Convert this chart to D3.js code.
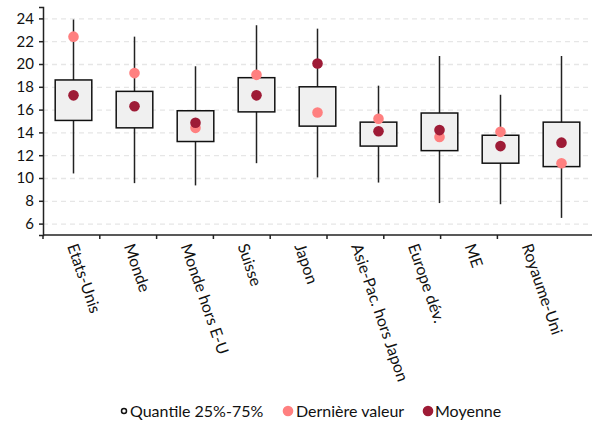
<!DOCTYPE html>
<html>
<head>
<meta charset="utf-8">
<script src="https://cdn.jsdelivr.net/npm/d3@7"></script>
<style>
  body { margin: 0; background: #fff; }
  svg text { font-family: Lato, "Open Sans", sans-serif; fill: #111; }
  .grid line { stroke: #e6e6e6; stroke-dasharray: 5,4; stroke-width: 1.3; }
  .grid .domain { display: none; }
  .axis path, .axis line { stroke: #222; stroke-width: 1.5; }
</style>
</head>
<body>
<div id="chart"><svg width="604" height="421"></svg></div>
<script>
const categories = ['Etats-Unis', 'Monde', 'Monde hors E-U', 'Suisse', 'Japon', 'Asie-Pac. hors Japon', 'Europe dév.', 'ME', 'Royaume-Uni']
const whiskerHigh = [23.9, 22.4, 19.8, 23.4, 23.1, 18.1, 20.7, 17.3, 20.7]
const q75 = [18.6, 17.6, 15.9, 18.8, 18.0, 14.9, 15.7, 13.75, 14.9]
const q25 = [15.05, 14.4, 13.2, 15.8, 14.55, 12.8, 12.4, 11.3, 11.0]
const whiskerLow = [10.4, 9.55, 9.35, 11.3, 10.05, 9.6, 7.8, 7.7, 6.5]
const moyenne = [17.25, 16.3, 14.85, 17.25, 20.05, 14.1, 14.2, 12.8, 13.1]
const derniere = [22.4, 19.2, 14.4, 19.05, 15.75, 15.2, 13.6, 14.05, 11.3]
const yTicks = [6, 8, 10, 12, 14, 16, 18, 20, 22, 24]

const colDerniere = '#ff8080'
const colMoyenne = '#9e1b36'

const dados = categories.map((c, i) => ({
  name: c, hi: whiskerHigh[i], q3: q75[i], q1: q25[i], lo: whiskerLow[i],
  moy: moyenne[i], der: derniere[i]
}))

const svg = d3.select('#chart svg')
const margin = { left: 43, right: 592, top: 7, bottom: 235 }

const xScale = d3.scaleBand()
  .range([margin.left, margin.right])
  .domain(categories)
  .paddingInner(0.4)
  .paddingOuter(0.2)

// les graduations de l'axe x ne tombent pas sur les boites dans l'original
const xTicks = d3.scalePoint()
  .range([margin.left, margin.left + 8 * 56.8])
  .domain(categories)

const yScale = d3.scaleLinear()
  .range([margin.bottom, margin.top])
  .domain([5, 25])

/*grille*/
svg.append('g')
  .attr('class', 'grid')
  .attr('transform', `translate(${margin.left}, 0)`)
  .call(d3.axisLeft(yScale)
    .tickValues(yTicks)
    .tickSize(-(margin.right - margin.left))
    .tickFormat('')
  )

/*axe y*/
svg.append('g')
  .attr('class', 'axis')
  .attr('transform', `translate(${margin.left}, 0)`)
  .call(d3.axisLeft(yScale).tickValues(yTicks).tickSizeOuter(0).tickSize(4).tickPadding(5))
  .selectAll('text')
  .style('font-size', '15px')

/*axe x*/
const xAxis = svg.append('g')
  .attr('class', 'axis')
  .attr('transform', `translate(0, ${margin.bottom})`)

xAxis.append('path')
  .attr('class', 'domain')
  .attr('d', `M${margin.left},0H${margin.right}`)

const xt = xAxis.selectAll('.tick')
  .data(categories)
  .enter()
  .append('g')
  .attr('class', 'tick')
  .attr('transform', (d) => `translate(${xTicks(d)}, 0)`)

xt.append('line').attr('y2', 4)

xt.append('text')
  .attr('transform', 'translate(24, 11) rotate(71)')
  .attr('text-anchor', 'start')
  .style('font-size', '16px')
  .text((d) => d)

/*boites*/
const g = svg.selectAll('.boite')
  .data(dados)
  .enter()
  .append('g')
  .attr('class', 'boite')

const cx = (d) => xScale(d.name) + xScale.bandwidth() / 2

g.append('line')
  .attr('x1', cx).attr('x2', cx)
  .attr('y1', (d) => yScale(d.hi))
  .attr('y2', (d) => yScale(d.lo))
  .attr('stroke', '#222')
  .attr('stroke-width', 1.5)

g.append('rect')
  .attr('x', (d) => xScale(d.name))
  .attr('width', xScale.bandwidth())
  .attr('y', (d) => yScale(d.q3))
  .attr('height', (d) => yScale(d.q1) - yScale(d.q3))
  .attr('fill', '#f0f0f0')
  .attr('stroke', '#111')
  .attr('stroke-width', 1.5)

g.append('circle')
  .attr('cx', cx)
  .attr('cy', (d) => yScale(d.der))
  .attr('r', 5.3)
  .attr('fill', colDerniere)

g.append('circle')
  .attr('cx', cx)
  .attr('cy', (d) => yScale(d.moy))
  .attr('r', 5.3)
  .attr('fill', colMoyenne)

/*legende*/
const legende = svg.append('g').attr('transform', 'translate(0, 411)')

legende.append('circle')
  .attr('cx', 124).attr('cy', 0).attr('r', 2.5)
  .attr('fill', '#fff').attr('stroke', '#111').attr('stroke-width', 1.5)
legende.append('text').attr('x', 130).attr('y', 5.5).style('font-size', '16px').text('Quantile 25%-75%')

legende.append('circle')
  .attr('cx', 288).attr('cy', 0).attr('r', 5.3).attr('fill', colDerniere)
legende.append('text').attr('x', 296).attr('y', 5.5).style('font-size', '16px').text('Dernière valeur')

legende.append('circle')
  .attr('cx', 428).attr('cy', 0).attr('r', 5.3).attr('fill', colMoyenne)
legende.append('text').attr('x', 435).attr('y', 5.5).style('font-size', '16px').text('Moyenne')
</script>
</body>
</html>
